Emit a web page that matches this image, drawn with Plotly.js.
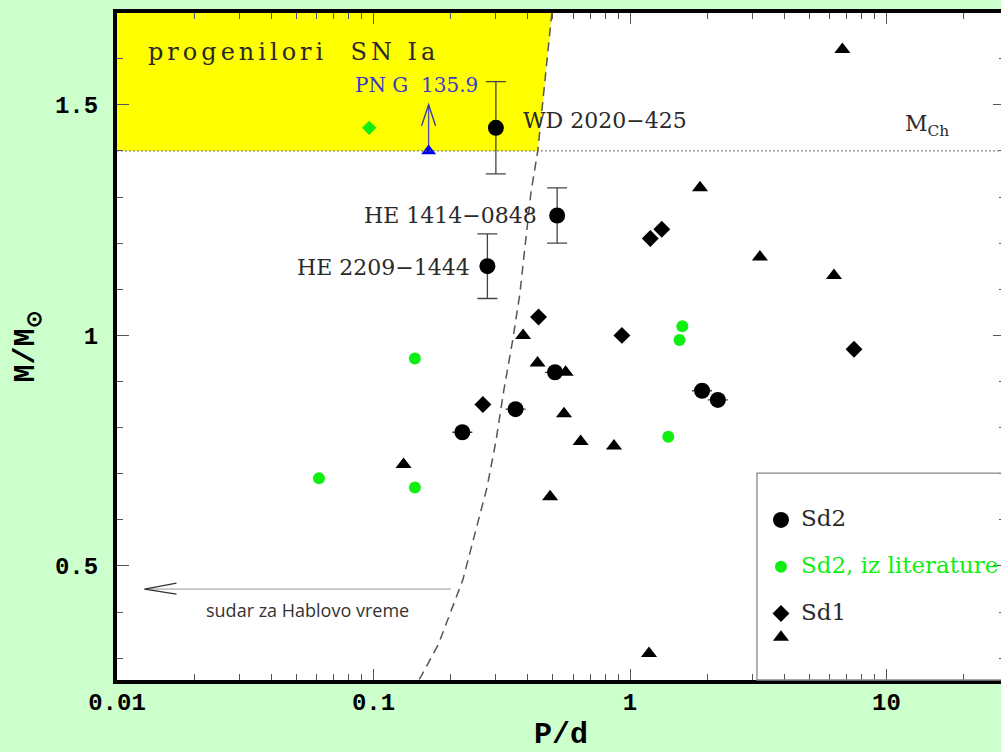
<!DOCTYPE html>
<html>
<head>
<meta charset="utf-8">
<script src="https://cdn.plot.ly/plotly-3.0.1.min.js"></script>
<style>
html, body { margin: 0; padding: 0; overflow: hidden; background: #ccffcc; }
#chart { width: 1010px; height: 752px; }
.annotation[data-index="0"] text { letter-spacing: 4px; }
</style>
</head>
<body>
<div id="chart"></div>
<script>
// ---- data ----
// Sd2 (black circles)
const sd2P   = [0.30, 0.52, 0.278, 0.51, 0.358, 0.222, 1.91, 2.20];
const sd2M   = [1.45, 1.26, 1.15, 0.92, 0.84, 0.79, 0.88, 0.86];
const sd2Err = [0.10, 0.06, 0.07, null, null, null, null, null];
// Sd2 from literature (green circles)
const litP = [0.145, 0.0613, 0.145, 1.60, 1.56, 1.41];
const litM = [0.95, 0.69, 0.67, 1.02, 0.99, 0.78];
// Sd1 diamonds
const sd1dP = [0.44, 0.93, 0.267, 1.20, 1.33, 7.47];
const sd1dM = [1.04, 1.00, 0.85, 1.21, 1.23, 0.97];
// Sd1 triangles
const sd1tP = [0.383, 0.436, 0.561, 0.553, 0.642, 0.866, 0.131, 0.488, 1.186, 1.875, 3.21, 6.24, 6.73];
const sd1tM = [1.00, 0.94, 0.92, 0.83, 0.77, 0.76, 0.72, 0.65, 0.31, 1.32, 1.17, 1.13, 1.62];
// green diamond (literature)
const gdP = [0.0962];
const gdM = [1.45];
// PN G 135.9 (blue triangle, lower limit)
const pngP = [0.164];
const pngM = [1.40];
const pngUpper = 1.50;
// Chandrasekhar mass
const MCh = 1.4;
// merger-within-Hubble-time curve (dashed)
const dashP = [0.496, 0.437, 0.411, 0.372, 0.349, 0.322, 0.300, 0.277, 0.223, 0.200, 0.179, 0.153, 0.149];
const dashM = [1.70, 1.40, 1.31, 1.09, 0.99, 0.88, 0.77, 0.67, 0.47, 0.40, 0.33, 0.26, 0.25];
// axes
const xMin = 0.01;
const xRangeLog = [-2, 1.462];
const yRange = [0.2528, 1.699];
// arrow "sudar za Hablovo vreme"
const sudarFromP = 0.2005, sudarToP = 0.0128, sudarM = 0.45;

// label texts
const labels = {
  prog: 'progenilori  SN Ia',
  png: 'PN G&nbsp; 135.9',
  wd: 'WD 2020\u2212425',
  he1: 'HE 1414\u22120848',
  he2: 'HE 2209\u22121444',
  mch: 'M<sub>Ch</sub>',
  sudar: 'sudar za Hablovo vreme'
};

const L = Math.log10;
const serif = 'DejaVu Serif';
const green = '#11ee11';

const traces = [
  { // yellow SN Ia progenitor zone
    x: [xMin, xMin, dashP[0], dashP[1]],
    y: [MCh, dashM[0], dashM[0], dashM[1]],
    mode: 'none', fill: 'toself', fillcolor: '#ffff00',
    showlegend: false, hoverinfo: 'skip'
  },
  { // dashed curve
    x: dashP, y: dashM, mode: 'lines',
    line: { color: '#555', width: 1.5, dash: '9px,6px' },
    showlegend: false, hoverinfo: 'skip'
  },
  { // merger-time arrow shaft
    x: [sudarFromP, sudarToP], y: [sudarM, sudarM], mode: 'lines',
    line: { color: '#999', width: 1 }, showlegend: false, hoverinfo: 'skip'
  },
  { // PN G 135.9 upward arrow shaft
    x: [pngP[0], pngP[0]], y: [pngM[0], pngUpper], mode: 'lines',
    line: { color: '#4a4aa8', width: 1.3 }, showlegend: false, hoverinfo: 'skip'
  },
  {
    name: '<span style="font-size:23px">Sd2</span>', legendgroup: 'a',
    x: sd2P, y: sd2M, mode: 'markers', type: 'scatter',
    marker: { symbol: 'circle', size: 16, color: '#000' },
    error_y: { type: 'data', array: sd2Err, visible: true, color: '#444', thickness: 1.3, width: 10 }
  },
  {
    name: '<span style="font-size:23px;color:' + green + '">Sd2, iz literature</span>', legendgroup: 'b',
    x: litP, y: litM, mode: 'markers',
    marker: { symbol: 'circle', size: 12, color: green }
  },
  {
    name: '<span style="font-size:23px">Sd1</span>', legendgroup: 'c',
    x: sd1dP, y: sd1dM, mode: 'markers',
    marker: { symbol: 'diamond', size: 13, color: '#000' }
  },
  {
    name: ' ', legendgroup: 'c',
    x: sd1tP, y: sd1tM, mode: 'markers',
    marker: { symbol: 'triangle-up', size: 14, color: '#000' }
  },
  {
    x: gdP, y: gdM, mode: 'markers', showlegend: false,
    marker: { symbol: 'diamond', size: 11, color: green }
  },
  {
    x: pngP, y: pngM, mode: 'markers', showlegend: false,
    marker: { symbol: 'triangle-up', size: 13, color: '#0000ff' }
  }
];

const txt = (t, x, y, xa, size, color, fam) => ({
  text: t, x: x, y: y, xref: 'x', yref: 'y', xanchor: xa, yanchor: 'middle',
  showarrow: false, font: { family: fam || serif, size: size, color: color || '#2a2a2a' }
});

const annotations = [
  txt(labels.prog, L(0.0486), 1.614, 'center', 24, '#2a2a2a'),
  txt(labels.png, L(0.1474), 1.542, 'center', 20, '#3a3ac8'),
  txt(labels.wd, L(0.375), 1.465, 'left', 22),
  txt(labels.he1, L(0.4406), 1.260, 'right', 22),
  txt(labels.he2, L(0.2429), 1.148, 'right', 22),
  txt(labels.mch, L(11.57), 1.455, 'left', 22),
  txt(labels.sudar, L(0.0554), 0.404, 'center', 18, '#333', 'Open Sans')
];

// open arrow heads: pixel-sized chevrons anchored at the arrow tips
const head = (xa, ya, path, color, w) => ({
  type: 'path', xref: 'x', yref: 'y', xsizemode: 'pixel', ysizemode: 'pixel',
  xanchor: xa, yanchor: ya, path: path,
  line: { color: color, width: w }, fillcolor: 'rgba(0,0,0,0)'
});

const tickFont = { family: 'Liberation Mono', size: 24, weight: 'bold', color: '#000' };
const titleFont = { family: 'Liberation Mono', size: 30, weight: 'bold', color: '#000' };

const layout = {
  width: 1010, height: 752,
  margin: { l: 117, r: 5, t: 13, b: 72 },
  paper_bgcolor: '#ccffcc', plot_bgcolor: '#ffffff',
  hovermode: false,
  xaxis: {
    type: 'log', range: xRangeLog, dtick: 1,
    showline: true, linewidth: 4, linecolor: '#000', mirror: 'ticks',
    ticks: 'inside', ticklen: 11, tickwidth: 1, tickcolor: '#555',
    minor: { ticks: 'inside', ticklen: 6, dtick: 'D1', tickwidth: 1, tickcolor: '#555' },
    showgrid: false, zeroline: false,
    tickfont: tickFont, ticklabelstandoff: -3,
    title: { text: 'P/d', font: titleFont, standoff: 20 }
  },
  yaxis: {
    range: yRange, dtick: 0.5, tick0: 0,
    showline: true, linewidth: 4, linecolor: '#000', mirror: 'ticks',
    ticks: 'inside', ticklen: 12, tickwidth: 1, tickcolor: '#555',
    minor: { ticks: 'inside', ticklen: 6, dtick: 0.1, tickwidth: 1, tickcolor: '#555' },
    showgrid: false, zeroline: false,
    tickfont: tickFont, ticklabelstandoff: 10,
    title: { text: 'M/M<sub>\u2299</sub>', font: titleFont, standoff: 12 }
  },
  shapes: [
    { type: 'line', xref: 'paper', x0: 0, x1: 1, yref: 'y', y0: MCh, y1: MCh,
      line: { color: '#666', width: 1, dash: '2px,2px' } },
    { type: 'rect', xref: 'paper', x0: 0.7207, x1: 1.2, yref: 'paper', y0: 0, y1: 0.3103,
      line: { color: '#888', width: 1.3 }, fillcolor: 'rgba(0,0,0,0)' },
    head(pngP[0], pngUpper, 'M-7,-21L0,0L7,-21', '#3a3aa0', 1.4),
    head(sudarToP, sudarM, 'M32,6L0,0L32,-5', '#333', 1.2)
  ],
  legend: {
    x: 0.7252, xanchor: 'left', y: 0.2654, yanchor: 'top',
    bgcolor: 'rgba(0,0,0,0)', borderwidth: 0,
    font: { family: serif, size: 16, color: '#2a2a2a' },
    tracegroupgap: 23, itemwidth: 30
  },
  annotations: annotations
};

Plotly.newPlot('chart', traces, layout, { displayModeBar: false, staticPlot: true });
</script>
</body>
</html>
